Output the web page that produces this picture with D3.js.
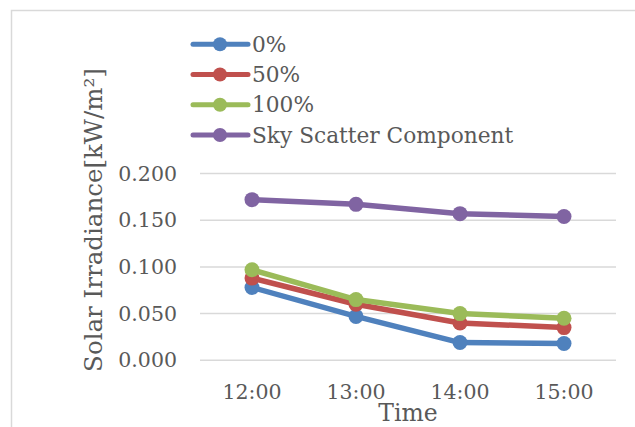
<!DOCTYPE html>
<html>
<head>
<meta charset="utf-8">
<script src="https://cdn.jsdelivr.net/npm/d3@7"></script>
<style>
  html, body { margin: 0; padding: 0; background: #fff; }
  svg { display: block; }
</style>
</head>
<body>
<svg id="chart" width="635" height="427"></svg>
<script>
const categories = ["12:00", "13:00", "14:00", "15:00"];
const seriesNames = ["0%", "50%", "100%", "Sky Scatter Component"];
const values0 = [0.078, 0.047, 0.019, 0.018];
const values50 = [0.088, 0.060, 0.040, 0.035];
const values100 = [0.097, 0.065, 0.050, 0.045];
const valuesSky = [0.172, 0.167, 0.157, 0.154];
const yTicks = [0, 0.05, 0.1, 0.15, 0.2];
const colors = ["#4f81bd", "#c0504d", "#9bbb59", "#8064a2"];
const yTitle = "Solar Irradiance[kW/m²]";
const xTitle = "Time";

const allValues = [values0, values50, values100, valuesSky];
const series = seriesNames.map((n, i) => ({ name: n, values: allValues[i], color: colors[i] }));

const svg = d3.select("#chart");
const font = "'DejaVu Serif', serif";
const textColor = "#595959";

// outer frame
svg.append("rect")
  .attr("x", 11.5).attr("y", 10.5)
  .attr("width", 700).attr("height", 500)
  .attr("fill", "none").attr("stroke", "#d9d9d9").attr("stroke-width", 1.5);

const x = d3.scaleBand().domain(categories).range([200, 616]);
const y = d3.scaleLinear().domain([0, 0.2]).range([360.3, 173.5]);

// gridlines
svg.append("g").selectAll("line").data(yTicks).join("line")
  .attr("x1", 200).attr("x2", 616)
  .attr("y1", d => y(d)).attr("y2", d => y(d))
  .attr("stroke", "#d9d9d9").attr("stroke-width", 1.5);

// y axis labels
const yAxis = d3.axisLeft(y).tickValues(yTicks).tickFormat(d3.format(".3f")).tickSize(0).tickPadding(0);
const gy = svg.append("g").attr("transform", "translate(177,0)").call(yAxis);
gy.select(".domain").remove();
gy.selectAll("text").attr("font-family", font).attr("font-size", 20.5).attr("fill", textColor);

// x axis labels
const xAxis = d3.axisBottom(x).tickSize(0).tickPadding(0);
const gx = svg.append("g").attr("transform", "translate(0,384)").call(xAxis);
gx.select(".domain").remove();
gx.selectAll("text").attr("font-family", font).attr("font-size", 20.5).attr("fill", textColor)
  .attr("dy", "0.75em");

// lines
const line = d3.line().x((d, i) => x(categories[i]) + x.bandwidth() / 2).y(d => y(d));
series.forEach(s => {
  const g = svg.append("g");
  g.append("path").attr("d", line(s.values)).attr("fill", "none")
    .attr("stroke", s.color).attr("stroke-width", 5.5).attr("stroke-linejoin", "round");
  g.selectAll("circle").data(s.values).join("circle")
    .attr("cx", (d, i) => x(categories[i]) + x.bandwidth() / 2)
    .attr("cy", d => y(d)).attr("r", 7.5).attr("fill", s.color);
});

// legend
const legendY = d3.scalePoint().domain(seriesNames).range([44.3, 135]);
const lg = svg.append("g");
series.forEach(s => {
  const cy = legendY(s.name);
  lg.append("line").attr("x1", 193).attr("x2", 248).attr("y1", cy).attr("y2", cy)
    .attr("stroke", s.color).attr("stroke-width", 5).attr("stroke-linecap", "round");
  lg.append("circle").attr("cx", 220).attr("cy", cy).attr("r", 7).attr("fill", s.color);
  lg.append("text").attr("x", 252).attr("y", cy + 7.5).text(s.name)
    .attr("font-family", font).attr("font-size", 21.7).attr("fill", textColor);
});

// axis titles
svg.append("text").attr("transform", "translate(102,220) rotate(-90)")
  .attr("text-anchor", "middle").attr("font-family", font).attr("font-size", 24.5)
  .attr("fill", textColor).text(yTitle);
svg.append("text").attr("x", 408).attr("y", 421)
  .attr("text-anchor", "middle").attr("font-family", font).attr("font-size", 23.5)
  .attr("fill", textColor).text(xTitle);
</script>
</body>
</html>
